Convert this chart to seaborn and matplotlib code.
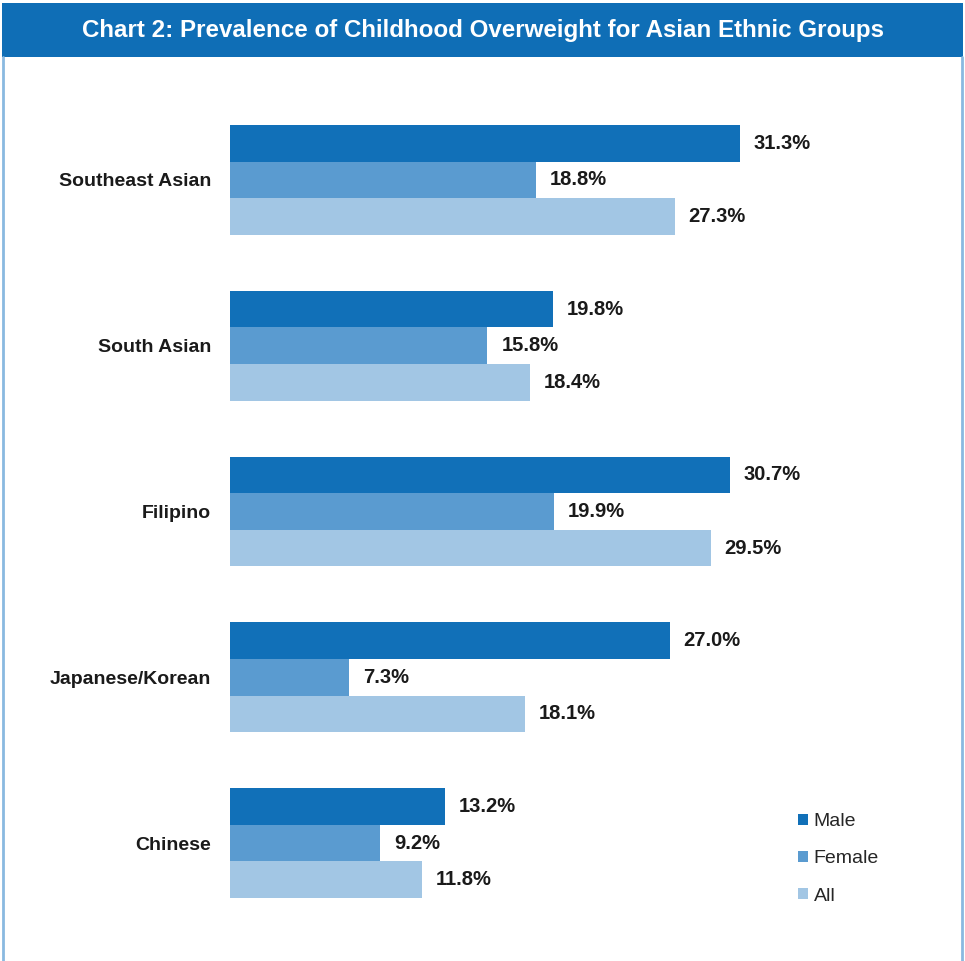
import matplotlib
matplotlib.use("Agg")
import matplotlib.pyplot as plt
from matplotlib.patches import Rectangle, Patch
from matplotlib.lines import Line2D
import seaborn as sns
import pandas as pd

groups = ["Southeast Asian", "South Asian", "Filipino", "Japanese/Korean", "Chinese"]
series = ["Male", "Female", "All"]
male = [31.3, 19.8, 30.7, 27.0, 13.2]
female = [18.8, 15.8, 19.9, 7.3, 9.2]
all_ = [27.3, 18.4, 29.5, 18.1, 11.8]
colors = ["#1170B8", "#5A9BD0", "#A2C6E4"]
title = "Chart 2: Prevalence of Childhood Overweight for Asian Ethnic Groups"

rows = []
for s, vals in zip(series, [male, female, all_]):
    for g, v in zip(groups, vals):
        rows.append({"group": g, "series": s, "value": v})
df = pd.DataFrame(rows)

sns.set_theme(style="white")
plt.rcParams["font.family"] = ["Liberation Sans", "DejaVu Sans"]

W, H = 965, 961
fig = plt.figure(figsize=(W / 100, H / 100), dpi=100)

# frame: title bar and side borders
fig.patches.append(Rectangle((2 / W, 1 - 57 / H), 961 / W, 54 / H, transform=fig.transFigure,
                             facecolor="#0F6EB6", edgecolor="none", zorder=0))
fig.add_artist(Line2D([2.5 / W, 2.5 / W], [0, 1 - 57 / H], transform=fig.transFigure,
                      color="#8AB9E0", lw=2))
fig.add_artist(Line2D([962 / W, 962 / W], [0, 1 - 57 / H], transform=fig.transFigure,
                      color="#8AB9E0", lw=2))
fig.text(483 / W, 1 - 30 / H, title, color="white", fontsize=17.4, fontweight="bold",
         ha="center", va="center")

px_per_unit = 16.29
ax_left, ax_right = 230, 905
ax_top, ax_bot = 97, 926
ax = fig.add_axes([ax_left / W, 1 - ax_bot / H, (ax_right - ax_left) / W, (ax_bot - ax_top) / H])

sns.barplot(data=df, x="value", y="group", hue="series", orient="h", palette=colors,
            hue_order=series, order=groups, width=0.663, gap=0, saturation=1,
            errorbar=None, legend=False, linewidth=0, ax=ax)

ax.set_xlim(0, (ax_right - ax_left) / px_per_unit)
ax.set_ylim(4.5, -0.5)
for c in ax.containers:
    ax.bar_label(c, fmt="%.1f%%", padding=10, fontsize=14.5, fontweight="bold", color="#1a1a1a")

ax.set_xlabel("")
ax.set_ylabel("")
ax.set_xticks([])
ax.tick_params(axis="y", length=0, pad=13.5)
for t in ax.get_yticklabels():
    t.set_fontweight("bold")
    t.set_fontsize(14)
    t.set_color("#1a1a1a")
for sp in ax.spines.values():
    sp.set_visible(False)
ax.patch.set_alpha(0)

handles = [Patch(facecolor=c, edgecolor="none", label=s) for c, s in zip(colors, series)]
fig.legend(handles=handles, loc="upper left", bbox_to_anchor=(798 / W, 1 - 813 / H),
           frameon=False, fontsize=14, handlelength=0.5, handleheight=0.5,
           handletextpad=0.3, labelspacing=1.05, borderpad=0, borderaxespad=0)

fig.savefig("out.png", dpi=100, facecolor="white")
